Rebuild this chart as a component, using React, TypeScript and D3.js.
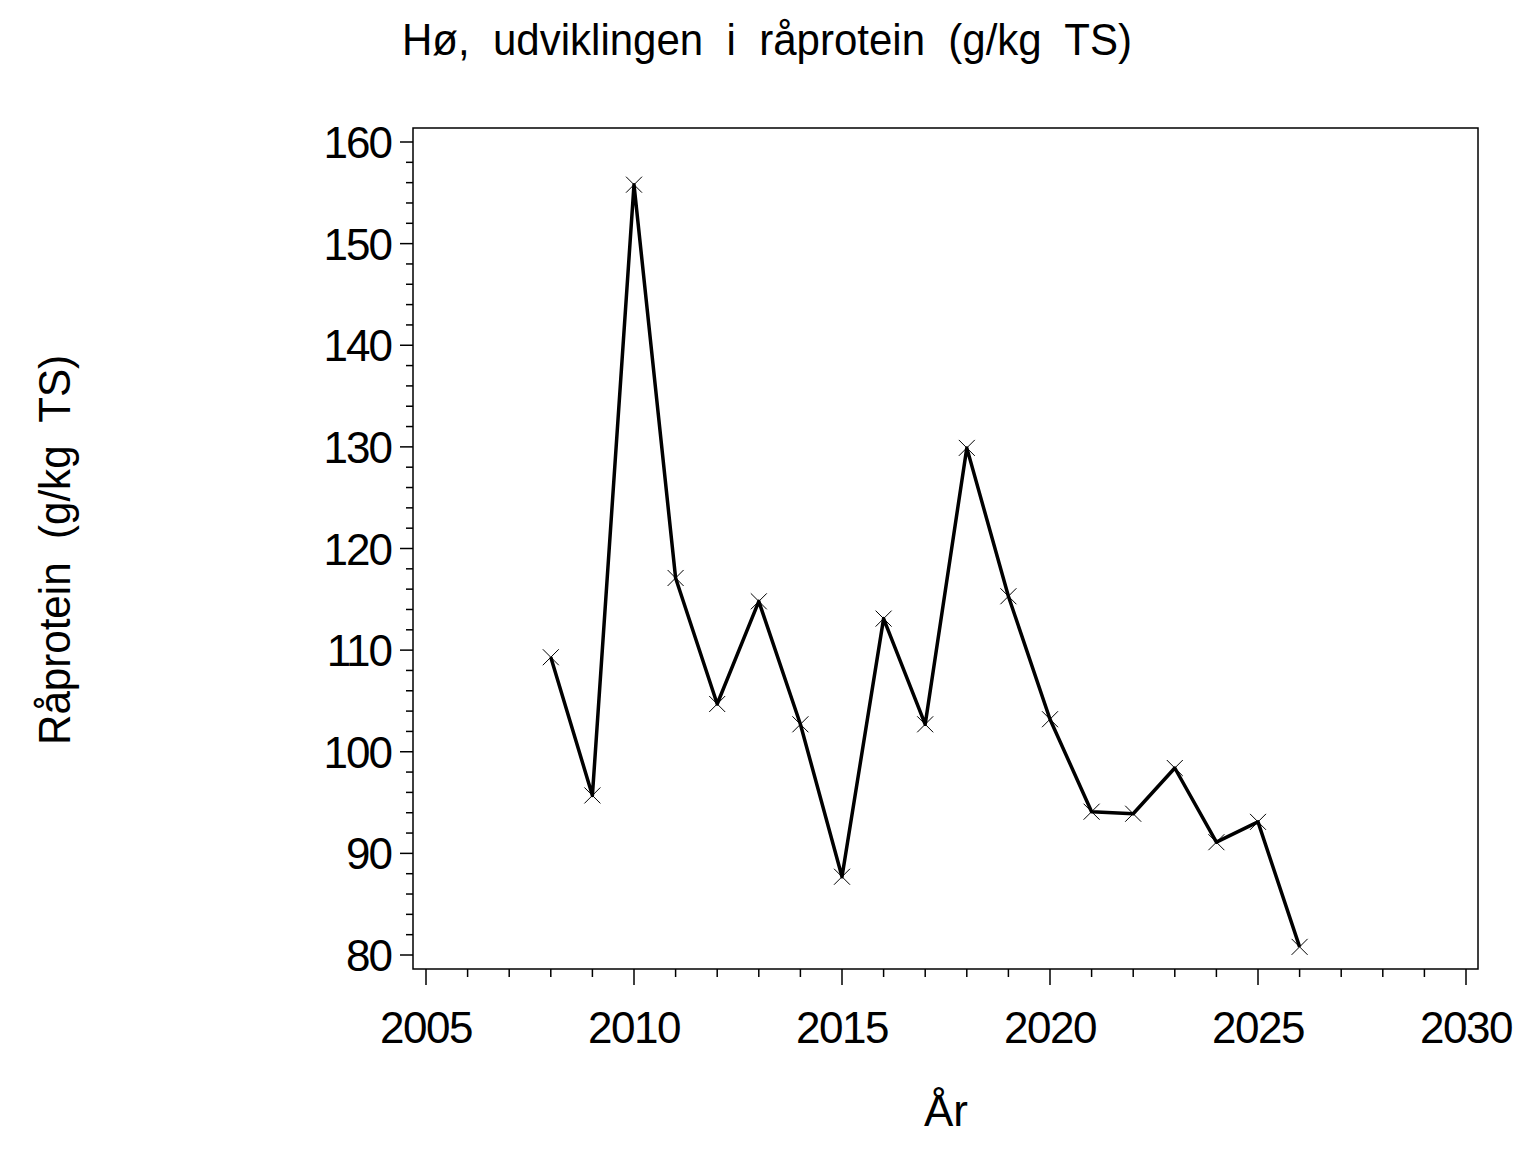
import React from 'react';
import * as d3 from 'd3';

const years = [2008, 2009, 2010, 2011, 2012, 2013, 2014, 2015, 2016, 2017, 2018, 2019, 2020, 2021, 2022, 2023, 2024, 2025, 2026];
const protein = [109.3, 95.7, 155.8, 117.1, 104.7, 114.8, 102.7, 87.7, 113.1, 102.7, 129.9, 115.3, 103.2, 94.1, 93.9, 98.4, 91.1, 93.1, 80.8];
const xTicks = [2005, 2010, 2015, 2020, 2025, 2030];
const yTicks = [80, 90, 100, 110, 120, 130, 140, 150, 160];

const title = 'Hø,  udviklingen  i  råprotein  (g/kg  TS)';
const yTitle = 'Råprotein  (g/kg  TS)';
const xTitle = 'År';

const W = 1536;
const H = 1152;
const frame = { left: 413, top: 128, right: 1478, bottom: 969 };
const font = '"Liberation Sans", Arial, sans-serif';

const App: React.FC = () => {
  const x = d3.scaleLinear().domain([2005, 2030]).range([426, 1466]);
  const y = d3.scaleLinear().domain([80, 160]).range([955, 142]);

  const xMinor = d3.range(2005, 2031, 1);
  const yMinor = d3.range(80, 161, 2);

  const pts = years.map((yr, i) => ({ yr, v: protein[i] }));
  const line = d3
    .line<{ yr: number; v: number }>()
    .x((d) => x(d.yr))
    .y((d) => y(d.v));

  const m = 8;

  return (
    <div style={{ position: 'absolute', left: 0, top: 0 }}>
      <svg width={W} height={H} style={{ display: 'block', background: '#fff' }} fontFamily={font}>
        <rect x={0} y={0} width={W} height={H} fill="#fff" />
        <text
          x={402}
          y={55}
          fontSize={45}
          textLength={730}
          lengthAdjust="spacingAndGlyphs"
          style={{ whiteSpace: 'pre' }}
        >
          {title}
        </text>

        <rect
          x={frame.left}
          y={frame.top}
          width={frame.right - frame.left}
          height={frame.bottom - frame.top}
          fill="none"
          stroke="#000"
          strokeWidth={1.5}
        />

        {yMinor.map((v) => (
          <line
            key={'ym' + v}
            x1={frame.left}
            x2={frame.left - (v % 10 === 0 ? 13 : 7)}
            y1={y(v)}
            y2={y(v)}
            stroke="#000"
            strokeWidth={1.5}
          />
        ))}
        {yTicks.map((v) => (
          <text key={'yl' + v} x={391} y={y(v) + 16} fontSize={44} letterSpacing={-2} textAnchor="end">
            {v}
          </text>
        ))}

        {xMinor.map((v) => (
          <line
            key={'xm' + v}
            x1={x(v)}
            x2={x(v)}
            y1={frame.bottom}
            y2={frame.bottom + (v % 5 === 0 ? 16 : 8)}
            stroke="#000"
            strokeWidth={1.5}
          />
        ))}
        {xTicks.map((v) => (
          <text key={'xl' + v} x={x(v)} y={1043} fontSize={44} letterSpacing={-1.5} textAnchor="middle">
            {v}
          </text>
        ))}

        <text x={946} y={1126} fontSize={44} textAnchor="middle">
          {xTitle}
        </text>
        <text
          transform={`translate(70,745) rotate(-90)`}
          fontSize={45}
          textLength={390}
          lengthAdjust="spacingAndGlyphs"
          style={{ whiteSpace: 'pre' }}
        >
          {yTitle}
        </text>

        <path d={line(pts) ?? ''} fill="none" stroke="#000" strokeWidth={3.5} strokeLinejoin="round" />
        {pts.map((d) => (
          <g key={'p' + d.yr} stroke="#000" strokeWidth={1}>
            <line x1={x(d.yr) - m} y1={y(d.v) - m} x2={x(d.yr) + m} y2={y(d.v) + m} />
            <line x1={x(d.yr) - m} y1={y(d.v) + m} x2={x(d.yr) + m} y2={y(d.v) - m} />
          </g>
        ))}
      </svg>
    </div>
  );
};

export default App;
